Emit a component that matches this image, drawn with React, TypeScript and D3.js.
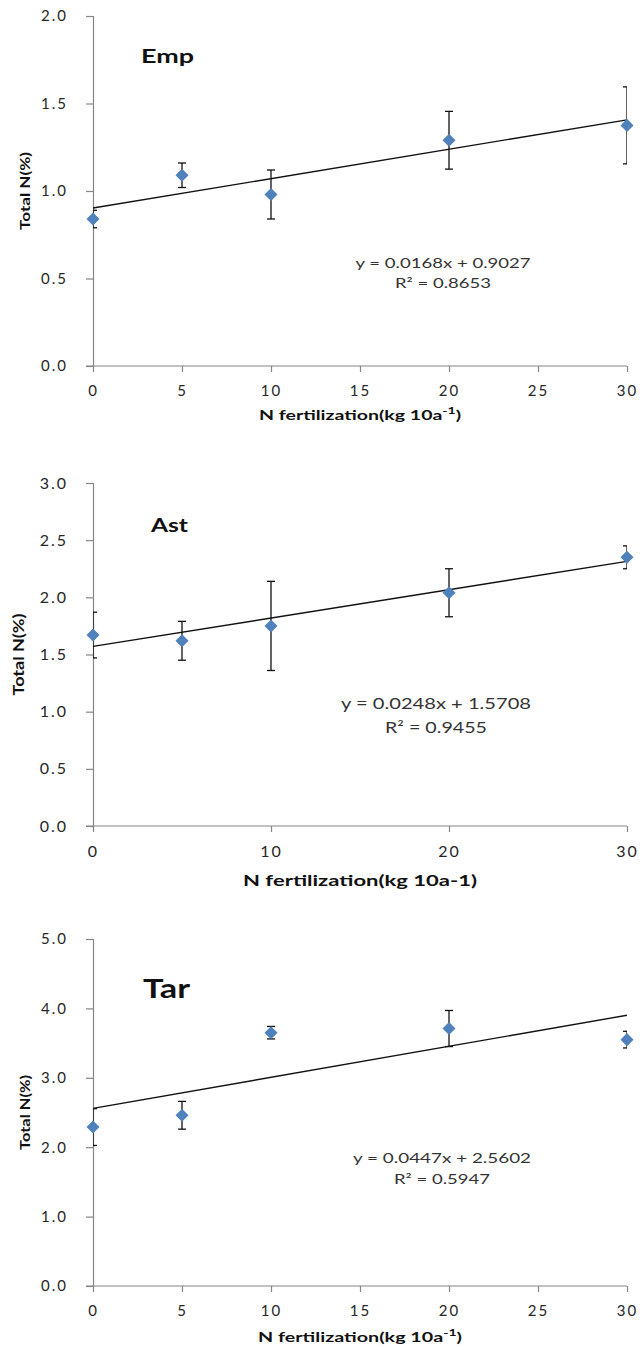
import React, { useRef, useEffect } from 'react';
import * as d3 from 'd3';

// N fertilization rates (kg 10a-1)
const nRates = [0, 5, 10, 20, 30];

// Total N (%) means and error bar half-widths
const empMean = [0.84, 1.09, 0.98, 1.29, 1.375];
const empErr = [0.05, 0.07, 0.14, 0.165, 0.22];
const astMean = [1.67, 1.62, 1.75, 2.04, 2.35];
const astErr = [0.2, 0.17, 0.39, 0.21, 0.1];
const tarMean = [2.29, 2.46, 3.65, 3.71, 3.55];
const tarErr = [0.265, 0.2, 0.09, 0.26, 0.12];

// linear fits
const fitSlope = [0.0168, 0.0248, 0.0447];
const fitIntercept = [0.9027, 1.5708, 2.5602];
const fitLabels = ['y = 0.0168x + 0.9027', 'y = 0.0248x + 1.5708', 'y = 0.0447x + 2.5602'];
const r2Labels = ['R\u00B2 = 0.8653', 'R\u00B2 = 0.9455', 'R\u00B2 = 0.5947'];

const panelNames = ['Emp', 'Ast', 'Tar'];
const yTicksList = [
  [0, 0.5, 1.0, 1.5, 2.0],
  [0, 0.5, 1.0, 1.5, 2.0, 2.5, 3.0],
  [0, 1, 2, 3, 4, 5],
];
const xTicksList = [
  [0, 5, 10, 15, 20, 25, 30],
  [0, 10, 20, 30],
  [0, 5, 10, 15, 20, 25, 30],
];
const xTitleSup = [true, false, true];

const means = [empMean, astMean, tarMean];
const errs = [empErr, astErr, tarErr];

// layout of each panel (pixels)
const layout = [
  { top: 16, bottom: 366, tickFont: 15, yTitleX: 25, yTitleLen: 78, yTitleFont: 13,
    xTitleY: 420, xTitleLen: 202, xTitleFont: 14, xPad: 13,
    nameX: 141, nameY: 63, nameFont: 18, nameLen: 53,
    eqX: 443, eqY: 268, r2Y: 288, eqFont: 14, eqLen: 175, r2Len: 96 },
  { top: 483, bottom: 826, tickFont: 16, yTitleX: 19, yTitleLen: 82, yTitleFont: 15,
    xTitleY: 886, xTitleLen: 234, xTitleFont: 16, xPad: 14,
    nameX: 151, nameY: 532, nameFont: 18, nameLen: 37,
    eqX: 436, eqY: 709, r2Y: 733, eqFont: 15, eqLen: 190, r2Len: 102 },
  { top: 939, bottom: 1286, tickFont: 15, yTitleX: 25, yTitleLen: 75, yTitleFont: 13,
    xTitleY: 1342, xTitleLen: 204, xTitleFont: 14, xPad: 13,
    nameX: 143, nameY: 998, nameFont: 26, nameLen: 47,
    eqX: 442, eqY: 1163, r2Y: 1184, eqFont: 14, eqLen: 178, r2Len: 96 },
];

const FONT = "Lato, 'Open Sans', sans-serif";
const AXIS = '#868686';
const MARKER = '#4F81BD';

const App = () => {
  const svgRef = useRef(null);

  useEffect(() => {
    const svg = d3.select(svgRef.current).html('');
    const left = 93;
    const right = 627;

    layout.forEach((L, p) => {
      const x = d3.scaleLinear().domain([0, 30]).range([left, right]);
      const yTicks = yTicksList[p];
      const y = d3.scaleLinear().domain([0, yTicks[yTicks.length - 1]]).range([L.bottom, L.top]);
      const g = svg.append('g');

      // clip for error bar caps
      const clipId = `clip-${p}`;
      svg.append('clipPath').attr('id', clipId)
        .append('rect')
        .attr('x', left).attr('y', L.top - 20)
        .attr('width', right - left).attr('height', L.bottom - L.top + 40);

      // --- Axes ---
      const yAxis = d3.axisLeft(y)
        .tickValues(yTicks)
        .tickFormat(d3.format('.1f'))
        .tickSizeOuter(0)
        .tickSize(7)
        .tickPadding(18);
      const ya = g.append('g').attr('transform', `translate(${left},0)`).call(yAxis);

      const xAxis = d3.axisBottom(x)
        .tickValues(xTicksList[p])
        .tickSizeOuter(0)
        .tickSize(6)
        .tickPadding(L.xPad);
      const xa = g.append('g').attr('transform', `translate(0,${L.bottom})`).call(xAxis);

      [ya, xa].forEach((a) => {
        a.select('.domain').attr('stroke', AXIS).attr('stroke-width', 1.2);
        a.selectAll('.tick line').attr('stroke', AXIS).attr('stroke-width', 1.2);
        a.selectAll('.tick text')
          .attr('fill', '#262626')
          .style('font-family', FONT)
          .style('font-size', `${L.tickFont}px`)
          .style('letter-spacing', '2px');
      });
      // extend the x axis line left to meet the bottom y tick
      xa.select('.domain').attr('d', `M${left - 7},0H${right}`);

      // --- Axis titles ---
      g.append('text')
        .attr('transform', `translate(${L.yTitleX},${(L.top + L.bottom) / 2}) rotate(-90)`)
        .attr('text-anchor', 'middle')
        .attr('dy', '0.35em')
        .attr('textLength', L.yTitleLen)
        .attr('lengthAdjust', 'spacingAndGlyphs')
        .style('font-family', FONT)
        .style('font-weight', 'bold')
        .style('font-size', `${L.yTitleFont}px`)
        .attr('fill', '#111')
        .text('Total N(%)');

      const xt = g.append('text')
        .attr('x', (left + right) / 2)
        .attr('y', L.xTitleY)
        .attr('text-anchor', 'middle')
        .attr('textLength', L.xTitleLen)
        .attr('lengthAdjust', 'spacingAndGlyphs')
        .style('font-family', FONT)
        .style('font-weight', 'bold')
        .style('font-size', `${L.xTitleFont}px`)
        .attr('fill', '#111');
      if (xTitleSup[p]) {
        xt.append('tspan').text('N fertilization(kg  10a');
        xt.append('tspan').attr('dy', -6).style('font-size', `${L.xTitleFont - 4}px`).text('-1');
        xt.append('tspan').attr('dy', 6).text(')');
      } else {
        xt.text('N fertilization(kg 10a-1)');
      }

      // --- Panel name ---
      g.append('text')
        .attr('x', L.nameX)
        .attr('y', L.nameY)
        .attr('textLength', L.nameLen)
        .attr('lengthAdjust', 'spacingAndGlyphs')
        .style('font-family', FONT)
        .style('font-weight', 'bold')
        .style('font-size', `${L.nameFont}px`)
        .attr('fill', '#111')
        .text(panelNames[p]);

      // --- Fit line ---
      const fitLine = d3.line()
        .x((d) => x(d))
        .y((d) => y(fitSlope[p] * d + fitIntercept[p]));
      g.append('path')
        .datum([0, 30])
        .attr('fill', 'none')
        .attr('stroke', '#111')
        .attr('stroke-width', 1.4)
        .attr('d', fitLine);

      // --- Error bars ---
      const pts = nRates.map((r, i) => ({ r, m: means[p][i], e: errs[p][i] }));
      const eb = g.append('g').attr('clip-path', `url(#${clipId})`)
        .attr('stroke', '#111').attr('stroke-width', 1.3);
      pts.forEach((d) => {
        const cx = x(d.r);
        eb.append('line').attr('x1', cx).attr('x2', cx)
          .attr('y1', y(d.m - d.e)).attr('y2', y(d.m + d.e));
        [d.m - d.e, d.m + d.e].forEach((v) => {
          eb.append('line').attr('x1', cx - 4).attr('x2', cx + 4)
            .attr('y1', y(v)).attr('y2', y(v));
        });
      });

      // --- Markers ---
      const diamond = d3.symbol().type(d3.symbolSquare).size(85);
      g.selectAll(null)
        .data(pts)
        .enter()
        .append('path')
        .attr('d', diamond)
        .attr('transform', (d) => `translate(${x(d.r)},${y(d.m)}) rotate(45)`)
        .attr('fill', MARKER);

      // --- Equation ---
      [[fitLabels[p], L.eqY, L.eqLen], [r2Labels[p], L.r2Y, L.r2Len]].forEach(([t, ty, tl]) => {
        g.append('text')
          .attr('x', L.eqX)
          .attr('y', ty)
          .attr('text-anchor', 'middle')
          .attr('textLength', tl)
          .attr('lengthAdjust', 'spacingAndGlyphs')
          .style('font-family', FONT)
          .style('font-size', `${L.eqFont}px`)
          .attr('fill', '#333')
          .text(t);
      });
    });
  }, []);

  return (
    <svg
      ref={svgRef}
      width={642}
      height={1350}
      style={{ position: 'absolute', left: 0, top: 0, background: '#fff' }}
    ></svg>
  );
};

export default App;
